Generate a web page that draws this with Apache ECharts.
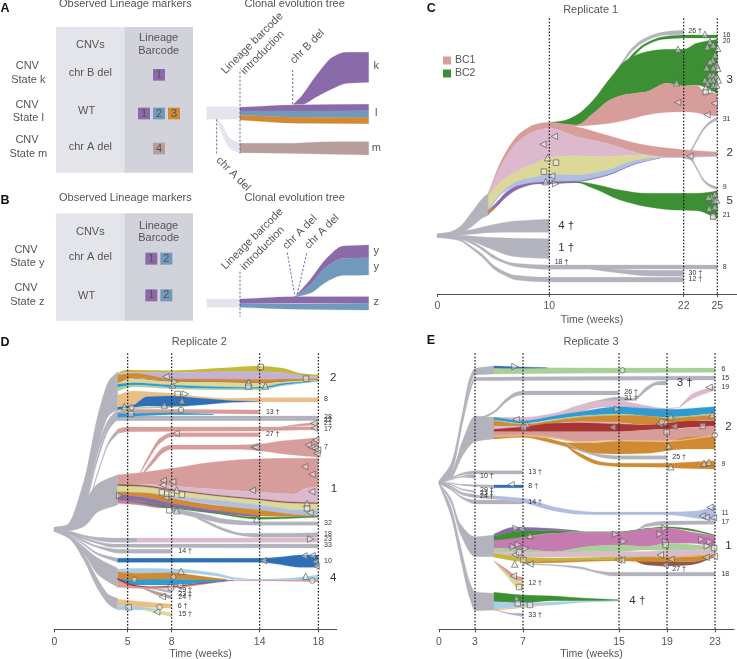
<!DOCTYPE html>
<html><head><meta charset="utf-8">
<style>html,body{margin:0;padding:0;background:#fff}#c{width:737px;height:659px}</style>
<script src="https://cdn.jsdelivr.net/npm/echarts@6/dist/echarts.min.js"></script>
</head><body><div id="c"></div>
<script>
// ---------- tick labels ----------
const ticksC=[0,10,22,25], ticksD=[0,5,8,14,18], ticksE=[0,3,7,15,19,23];
const sampledC=[10,22,25], sampledD=[5,8,14,18], sampledE=[3,7,15,19,23];

// ---------- colours ----------
const salmon='#d79d9b',pinkL='#dcb9cd',yellow='#dcd898',blueL='#b0bee0',purple='#8b6aa9',green='#3d8f34',grey='#b3b3bd',orange='#cf8a33',blue='#2f9bd1',blueD='#2e6fb7',skyL='#a8cfe8',olive='#c2b83a',lilac='#c4b2d6',tan='#e9bf85',greenL='#a9d09a',brown='#8b5a4a',red='#a83434',magenta='#c57ab0',ghost='#e4e5ea',steel='#7199bc',taupe='#b89e9a';

// ---------- Replicate 1 : [week, upper edge, lower edge] ----------
const cGreyMain=[[0,701,712],[1,697,710],[2,680,701],[3,640,682],[4,596,655],[4.6,578,645]];
const cFour=[[0,702,711],[2,695,706],[3,689,703],[4.5,677,698],[7,663,697],[10,657,697]];
const cOne=[[0,702,712],[2,706,716],[3,708,722],[4.5,712,743],[7,715,770],[10,716,776]];
const cEight=[[0,703,711],[2,712,717],[3,722,730],[4,742,750],[5,765,775],[6,782,790],[7,790,800],[10,795,808],[14,795,807],[25,795,807]];
const cThirty=[[13.5,804,807],[16,808,818],[19,811,828],[22,811,829]];
const cTwelve=[[0,703,712],[2,716,722],[3,738,745],[4,762,772],[5,795,806],[6,815,826],[7,826,840],[10,832,846],[22,832,846]];
const cSalmon2=[[4.55,578,582],[5.89,470,485],[7.38,400,420],[8.87,372,392],[10,367,385],[12.44,380,410],[15.12,405,430],[17.8,430,458],[19.88,442,470],[22,449,472],[25,456,468]];
const cPink=[[4.55,582,588],[5.89,485,540],[7.38,420,510],[8.87,392,488],[10,385,472],[12.44,410,467],[15.12,430,470],[17.8,458,465],[19.88,470,470.5]];
const cYellow=[[4.55,588,625],[5.89,540,572],[7.38,510,540],[8.87,488,530],[10,472,522],[12.44,467,525],[15.12,470,510],[17.8,465,480],[19.88,470,472]];
const cBlue=[[4.55,625,632],[5.89,572,578],[7.38,540,555],[8.87,530,547],[10,522,545],[12.44,525,543],[15.12,510,525],[17.8,480,490],[19.88,472,474],[22,470,472],[25,467,469]];
const cPurple=[[4.55,632,643],[5.3,607,620],[6.19,575,590],[7.38,555,565],[8.87,547,552],[10,545,552],[12.44,543,546],[15.12,525,527],[17.8,490,491],[19.88,474,474.5]];
const cOrange=[[4.55,630,640],[5,625,630],[5.3,610,611]];
const cSalmon3=[[11.25,372,372.5],[12.44,375,378],[13.93,340,375],[15.42,300,370],[16.9,283,360],[18.69,275,345],[20.48,250,337],[22,258,335],[23.15,255,338],[24.05,280,345],[25,280,348]];
const cGreen3=[[10,367,367.5],[11.25,362,372],[12.44,345,375],[13.93,300,340],[15.42,235,300],[16.9,180,283],[18.69,155,275],[20.48,148,250],[22,148,258],[23.15,130,255],[25,118,280]];
const cGrey26=[[14.67,287,291],[16.31,195,205],[17.5,140,150],[18.69,112,122],[20.18,96,106],[22,90,103]];
const cGreen16=[[15.12,280,285],[16.31,215,225],[17.5,160,170],[18.69,128,135],[20.18,110,118],[22,105,114],[25,105,114]];
const cGreen5=[[10,548,549],[12.44,545,548],[13.93,552,565],[16.31,570,600],[18.69,580,620],[21.07,580,630],[23.15,580,632],[25,573,655]];
const cGrey31=[[22,469,473],[22.56,452,460],[23.15,418,426],[23.75,384,392],[24.35,364,372],[25,352,360]];
const cGrey9=[[22,470,474],[22.6,472,480],[23.15,500,508],[23.75,536,544],[24.35,553,561],[25,561,569]];
const bandsC=[[cGreyMain,grey],[cFour,grey],[cOne,grey],[cEight,grey],[cThirty,grey],[cTwelve,grey],[cGrey26,grey],[cGrey31,grey],[cGrey9,grey],[cGreen16,green],[cGreen3,green],[cSalmon3,salmon],[cGreen5,green],[cSalmon2,salmon],[cPink,pinkL],[cYellow,yellow],[cBlue,blueL],[cPurple,purple],[cOrange,orange]];

// ---------- Replicate 2 ----------
const dFan2=[[0,592,600],[0.84,585,597],[2,455,515],[3,250,310],[3.75,150,205],[4.32,125,185]];
const dFan8=[[0,592,600],[0.84,588,598],[2,480,530],[3,290,345],[3.75,205,255],[4.32,185,240]];
const dFan13=[[0,593,600],[0.84,590,598],[2,520,535],[3,345,365],[3.75,265,285],[4.32,240,262]];
const dGrey28=[[0,594,600],[0.84,591,598],[2,530,540],[3,370,385],[3.75,285,297],[4.32,260,272],[5,258,272],[18,258,272]];
const dFan17=[[0,595,601],[0.84,593,598],[2,550,556],[3,420,428],[3.75,330,340],[4.32,297,312]];
const dFan1=[[0,593,603],[1,588,602],[2,520,590],[3,460,545],[4.32,434,525]];
const dGrey23=[[0,597,604],[1,603,609],[2,615,622],[3,622,632],[4,624,637],[5.66,624,637]];
const dPink23=[[5.66,624,637],[18,624,637]];
const dGrey33=[[0,598,604],[1,605,611],[2,622,628],[3,635,642],[4,642,652],[18,642,654]];
const dGrey14=[[0,598,604],[1,607,612],[2,630,636],[3,648,654],[4.5,658,670],[8,658,670]];
const dFan10=[[0,600,604],[1,612,615],[2,640,645],[3,670,676],[4.32,685,697]];
const dBlue10=[[4.32,685,697],[14,685,697],[15.61,680,705],[16.75,675,712],[18,675,712]];
const dFan4=[[0,600,604],[1,615,625],[2,650,670],[3,685,735],[4.32,715,772]];
const dFan6=[[0,600,604],[1,615,625],[2,670,690],[3,750,780],[3.75,795,825],[4.32,805,840]];
const dOlive=[[4.32,130,133],[4.93,120,127],[8,122,128],[11.07,115,125],[14,108,125],[15.61,115,128],[16.75,130,138],[18,135,140]];
const dLilac=[[4.32,133,135],[4.93,127,130],[8,128,148],[11.07,125,148],[14,125,147],[15.61,128,148],[17.2,138,148],[18,140,148]];
const dOrange2=[[4.32,135,160],[5.39,130,145],[8,147,153],[11.07,147,155],[14,148,158],[15.61,147,153],[18,147,150]];
const dBrown2=[[5.39,145,146],[8,153,155],[11.07,155,157],[14,158,160],[15.61,153,155],[18,150,151]];
const dYellow2=[[4.32,160,162],[5.39,146,158],[8,155,165],[11.07,157,170],[14,160,172],[15.61,155,160],[18,151,153]];
const dBlue2=[[4.32,162,172],[5.39,158,165],[8,165,172],[11.07,170,176],[14,172,176],[15.61,160,165],[18,153,153.5]];
const dGreen2=[[4.32,172,183],[5.39,165,170],[8,172,176],[11.07,176,179],[14,176,179],[15.61,165,167],[18,153.5,154]];
const dTan8=[[4.32,195,232],[5.39,183,225],[6.3,185,200],[8,190,198],[9.93,200,205],[12.2,205,212],[14,203,215],[18,203,216]];
const dBlue8=[[4.32,232,240],[5.39,225,232],[6.3,200,228],[8,198,230],[9.93,205,225],[12.2,212,217],[14,215,215.5]];
const dGreen8=[[4.32,240,243],[5.39,232,236],[7.66,230,233],[9,228,229]];
const dSalmon13=[[4.32,246,250],[5.39,238,248],[14,240,252]];
const dBlue13=[[4.32,250,262],[4.93,250,260],[8,248,254],[10.84,252,254]];
const dBranch17=[[15.5,290,291],[16.75,282,288],[18,275,285]];
const dSalmon17=[[4.32,297,310],[4.93,291,305],[14,291,303],[16.75,290,300],[18,290,300]];
const dSalmon27=[[5.84,428,432],[6.52,370,382],[7.2,325,340],[8,308,320],[14,308,320]];
const dSalmon7=[[6.07,426,432],[6.75,385,400],[7.43,352,368],[8,345,358],[12.2,345,358],[14,342,362],[15.61,332,372],[18,323,382]];
const dSalmon1=[[4.32,434,462],[5.84,428,462],[8,415,468],[11.07,395,478],[14,386,487],[16.3,385,492],[17.2,385,475],[18,385,470]];
const dPink1=[[4.32,462,463],[5.84,462,465],[8,468,478],[11.07,478,495],[14,487,507],[16.3,492,516],[17.2,475,520],[18,470,518]];
const dBrown1=[[4.32,463,467],[5.84,465,469],[8,478,481],[11.07,495,498],[14,507,510],[16.3,516,520],[18,518,521]];
const dYellow1=[[4.32,467,485],[5.84,469,490],[8,481,498],[11.07,498,510],[14,510,525],[16.75,522,540],[18,521,540]];
const dBlue1=[[5.84,490,491],[8,498,505],[11.07,510,525],[14,525,540],[16.75,540,555],[18,540,557]];
const dOrange1=[[4.32,485,492],[6.52,490,505],[8,505,520],[10.84,525,540],[14,540,558],[16.75,555,560],[18,557,560]];
const dPurple1=[[4.32,492,505],[6.52,505,522],[8,520,532],[10.84,540,548],[14,558,562]];
const dMagenta1=[[4.32,505,520],[5.84,513,525],[7.2,528,534],[8,532,534]];
const dGreen1=[[4.32,505,507],[5.39,513,515],[8,532,535],[10.84,547,550],[14,562,568],[18,559,562]];
const dGrey32=[[8,535,545],[9.93,550,565],[11.75,568,582],[14,575,586],[18,575,586]];
const dGrey18=[[9.02,545,548],[10.39,572,580],[11.75,598,606],[12.89,610,618],[14,610,622],[18,608,622]];
const dSky4=[[4.32,717,725],[5.84,715,730],[8.64,718,728],[11.07,730,738],[12.2,742,748],[14,748,750],[15.84,745,749],[18,735,750]];
const dOrange4=[[4.32,725,745],[5.84,730,752],[8,728,748],[9.93,738,750],[11.75,748,750]];
const dBlue4=[[4.32,745,748],[5.39,750,765],[8,748,765],[9.93,750,760],[11.75,750,752]];
const dRed4=[[4.32,745,750],[5.39,764,768],[6.52,770,772],[8,768,771],[9.93,760,762],[12.2,750,751]];
const dSalmon4=[[4.32,750,772],[5.39,768,775],[6.52,772,776],[8,771,775],[9.93,762,765],[12.2,751,752],[14,750,752],[18,750,755]];
const dGrey29=[[5.84,768,770],[7,775,780],[8,782,790]];
const dTaupe24=[[5.84,770,772],[7,785,795],[8,797,807]];
const dTan6=[[4.32,808,825],[6.07,815,832],[8,822,835]];
const dSky6=[[4.32,825,840],[6.07,832,840],[7.2,838,840]];
const dYellow15=[[6.07,838,840],[7,842,850],[8,848,860]];
const bandsD=[[dFan2,grey],[dFan8,grey],[dFan13,grey],[dGrey28,grey],[dFan17,grey],[dFan1,grey],[dGrey23,grey],[dPink23,pinkL],[dGrey33,grey],[dGrey14,grey],[dFan10,grey],[dBlue10,blueD],[dFan4,grey],[dFan6,grey],
[dOlive,olive],[dLilac,lilac],[dOrange2,orange],[dBrown2,brown],[dYellow2,yellow],[dBlue2,blue],[dGreen2,greenL],[dTan8,tan],[dBlue8,blueD],[dGreen8,greenL],[dSalmon13,salmon],[dBlue13,blue],[dBranch17,salmon],[dSalmon17,salmon],[dSalmon27,salmon],[dSalmon7,salmon],
[dGrey32,grey],[dGrey18,grey],[dSalmon1,salmon],[dPink1,pinkL],[dYellow1,yellow],[dBlue1,blueL],[dOrange1,orange],[dPurple1,purple],[dMagenta1,magenta],[dGreen1,green],[dBrown1,brown],
[dGrey29,grey],[dTaupe24,taupe],[dSky4,skyL],[dOrange4,orange],[dBlue4,blue],[dSalmon4,salmon],[dRed4,red],[dTan6,tan],[dSky6,skyL],[dYellow15,yellow]];

// ---------- Replicate 3 ----------
const eFan6=[[0,452,458],[1,400,425],[2,240,265],[2.5,150,180],[3,115,135],[4.58,108,132]];
const eGrey15=[[0,453,458],[1,410,430],[2,250,275],[2.6,170,185],[3,142,152],[23,138,150]];
const eGrey26=[[0,453,458],[1,430,438],[2,330,345],[3,268,276],[3.5,262,268],[4.58,243,250],[5.64,205,215],[6.47,186,198],[7,183,195],[15,183,195]];
const eFan2=[[0,454,459],[1,432,445],[2,330,375],[3,258,335],[4.58,262,327]];
const eGrey13=[[0,454,458],[1,442,447],[2,428,434],[3,422,432],[7,422,432]];
const eGrey10=[[0,454,459],[1,447,450],[2,437,442],[3,433,445]];
const eFan8=[[0,455,459],[1,458,461],[2,463,467],[4.58,465,473]];
const eBlue8=[[4.58,465,473],[7,465,473]];
const eGrey29=[[0,456,460],[1,463,466],[2,477,481],[3,482,488]];
const eGrey24=[[0,457,461],[1,468,471],[2,488,493],[3,493,502]];
const eGrey14=[[0,457,461],[1,475,480],[2,502,508],[3,510,522],[7,510,522]];
const eFan11=[[0,457,461],[1,470,475],[2,490,496],[3,495,503],[4.58,497,507]];
const eBlue11=[[4.58,497,507],[7,505,518],[9.53,530,542],[11.75,543,553],[13.14,546,554],[19,546,554],[21.47,543,565],[23,528,572]];
const eGrey17=[[16.47,600,601],[17.31,581,590],[19,573,585],[23,572,583]];
const eFan1=[[0,458,462],[1,505,520],[1.75,580,610],[3,620,680],[4.58,615,680]];
const eFan4=[[0,458,463],[1,530,560],[1.75,640,680],[2.6,760,810],[3,785,842],[4.58,790,840]];
const eGreen6=[[4.58,113,132],[23,114,127]];
const eBlue6=[[4.58,108,114],[6.19,110,115],[9,113,114]];
const ePink19a=[[4.58,262,262.5],[7,262,272],[9.53,250,258],[11.75,225,245],[13.42,212,232],[15,212,230],[17.03,225,235],[19,235,238],[20.08,230,232]];
const ePink19b=[[20.08,228,232],[21.19,190,205],[23,168,180]];
const eGrey31=[[10.92,235,238],[13.14,212,218],[15,200,212],[16.19,205,212],[17.31,170,182],[18.14,155,165],[19,152,165]];
const eBlue2=[[4.58,262,270],[7,272,280],[9.53,258,268],[11.75,245,258],[15,230,252],[17.31,235,258],[19,238,262],[23,230,250]];
const eGreenL2=[[4.58,270,272],[7,280,283],[11.75,258,262],[15,252,256],[19,262,264],[23,250,254]];
const eOrangeA=[[4.58,272,288],[7,283,288],[9.53,272,280],[11.75,262,275],[15,256,278],[17.31,258,285],[19,264,278],[23,254,270]];
const ePink2=[[4.58,288,298],[7,288,290],[11.75,275,278],[15,278,282],[17.31,285,285.5],[19,278,279],[23,270,272]];
const eRed2=[[4.58,298,305],[7,290,305],[9.53,280,305],[11.75,278,305],[15,282,305],[17.31,285,300],[19,279,298],[20.92,273,292],[23,272,288]];
const eSalmon2=[[4.58,305,318],[7,305,318],[9.53,305,325],[11.75,305,335],[15,305,330],[17.31,300,335],[19,298,332],[23,288,315]];
const eTan2=[[4.58,318,320],[7,315,318],[9.53,322,325],[11.75,335,338],[15,330,333],[19,332,335],[23,315,318]];
const eOrangeB=[[4.58,320,327],[7,318,322],[8.97,325,335],[10.64,338,350],[12.86,338,370],[15,333,372],[17.31,335,370],[19,335,362],[20.64,322,357],[23,318,357]];
const eGrey25=[[10.36,335,337],[12.31,365,370],[13.97,375,385],[15,377,388],[19,377,388]];
const eOrange9=[[10.36,340,342],[11.75,370,380],[13.42,395,405],[15,400,410],[19,400,412],[20.08,398,415],[23,392,417]];
const ePurple1=[[4.58,612,618],[6.19,592,605],[7,592,603],[10.36,598,602],[11.75,603,604]];
const eGreen1=[[4.58,618,632],[6.19,605,628],[7,603,622],[9.53,602,610],[12.31,605,607],[15,605,607],[17.31,595,597],[19,590,594],[20.64,595,600],[23,615,617]];
const eMagenta1=[[4.58,632,655],[7,622,658],[9.53,610,665],[12.31,607,650],[15,607,645],[17.31,597,650],[19,594,640],[20.92,605,640],[23,617,650]];
const eGreenL1=[[4.58,655,665],[7,658,668],[9.53,665,668],[12.31,650,665],[15,645,665],[17.31,650,660],[19,640,662],[23,650,658]];
const ePink1=[[4.58,665,670],[7,668,682],[12.31,665,680],[15,665,680],[19,662,680],[23,658,672]];
const eOlive1=[[4.58,670,682],[7,682,695],[9.53,684,692],[15,680,688],[19,680,682],[23,672,675]];
const eOrange1=[[7,695,700],[9.53,692,698],[15,688,692],[17.03,682,695],[19,682,695],[20.92,680,695],[23,675,680]];
const eBrown1=[[16.47,693,695],[17.31,692,705],[19,695,708],[20.92,695,705],[23,680,681]];
const eGrey18=[[7,700,703],[8.97,703,706],[11.75,710,716],[13.14,722,728],[14.53,727,738],[23,727,738]];
const eGrey27=[[17.03,697,698],[19,708,712]];
const eYellow12=[[4.58,693,695],[5.64,728,738],[6.47,750,772],[7,752,780]];
const eSalmon12=[[4.58,692,693],[5.64,718,728],[6.47,738,750],[7,742,752]];
const eGreen4=[[4.58,787,815],[7,795,818],[9.53,798,812],[12.31,805,812],[15,809,812]];
const eSky4=[[4.58,815,838],[7,818,830],[9.53,816,825],[12.31,814,817],[15,812,813]];
const eTan4=[[4.58,838,841],[7,830,833],[8.97,821,823]];
const eGrey33=[[4.58,838,840],[6.19,850,855],[7,850,860]];
const bandsE=[[eFan6,grey],[eGrey15,grey],[eGrey26,grey],[eFan2,grey],[eGrey13,grey],[eGrey10,grey],[eFan8,grey],[eBlue8,blueD],[eGrey29,grey],[eGrey24,grey],[eGrey14,grey],[eFan11,grey],[eBlue11,blueL],[eGrey17,grey],[eFan1,grey],[eFan4,grey],
[eGreen6,greenL],[eBlue6,blueD],[eGrey31,grey],[ePink19a,pinkL],[ePink19b,pinkL],[eBlue2,blue],[eGreenL2,greenL],[eOrangeA,orange],[ePink2,pinkL],[eRed2,red],[eSalmon2,salmon],[eOrangeB,orange],[eTan2,tan],[eGrey25,grey],[eOrange9,orange],
[ePurple1,purple],[eGreen1,green],[eMagenta1,magenta],[eGreenL1,greenL],[ePink1,pinkL],[eOlive1,olive],[eGrey18,grey],[eGrey27,grey],[eBrown1,brown],[eOrange1,orange],[eYellow12,yellow],[eSalmon12,salmon],[eGreen4,green],[eSky4,skyL],[eTan4,tan],[eGrey33,grey]];

// ---------- sampling markers [week, track] ----------
const cLeft=[[10.45,409],[9.43,433],[10.21,528],[21.46,307],[24.73,310],[24.08,344],[22.56,468]];
const cUp=[[9.85,473],[9.67,545],[21.49,148],[21.37,248],[23.9,103],[24.35,125],[24.11,140],[24.64,135],[25.03,145],[24.79,165],[24.58,180],[24.35,185],[24.94,195],[24.05,203],[24.64,203],[25.03,205],[24.35,225],[24.64,225],[24.94,230],[23.9,240],[24.35,240],[24.64,240],[25.09,240],[24.11,250],[24.64,255],[23.99,262],[24.29,270],[24.94,255],[24.49,590],[24.79,582],[24.2,592],[24.73,602],[24.29,625],[24.79,620],[24.94,600],[24.64,645]];
const cRight=[[10.57,551]];
const cSquare=[[9.52,515],[10.6,488],[23.96,276],[24.64,650]];
const dLeft=[[7.61,140],[8.3,310],[13.61,351],[13.75,352],[17.07,410],[17.57,433],[17.55,485],[13.5,481],[7.43,452],[7.39,465],[8.07,455],[7.59,503],[17.43,548],[17.7,280],[17.73,294],[17.82,330],[17.32,345],[17.55,352],[17.77,355],[17.95,360],[17.9,370],[17.02,678],[17.57,677],[17.77,695],[17.84,708],[7.36,800],[6.98,846],[14.25,692]];
const dUp=[[13.25,157],[8.05,165],[14.39,168],[8.7,212],[7.5,225],[4.77,230],[8.34,480],[8.34,542],[13.8,567],[17.23,520],[8.64,724],[17.14,739]];
const dRight=[[8.23,155],[8.93,192],[4.45,497],[17.48,627]];
const dSquare=[[14.07,111],[17.16,146],[13.23,170],[8.41,192],[5.23,252],[7.34,487],[7.7,491],[8,491],[8.7,494],[7.84,541],[17.23,535],[7.95,772],[5.07,832]];
const dCircle=[[5.27,232],[8.64,240],[5.45,749],[8.11,741],[8.59,767],[17.59,752],[7.18,831]];
const eLeft=[[6.42,269],[14.44,292],[19.58,289],[18.36,282],[22.5,172],[22.58,532],[21.94,558],[22.25,562],[22.86,563],[6.83,597],[6.33,674],[18.44,675],[19.33,688],[18.83,705],[22.25,682],[22.92,679],[14.94,690],[15.22,690],[7.58,702],[6.19,738],[6,464]];
const eUp=[[7.31,283],[19.31,260],[22.75,255],[19.14,347],[19.31,410],[22.08,400],[22.5,397],[7.58,616],[6.31,702],[6.47,805]];
const eRight=[[6.33,110],[14.86,238],[14.72,613],[15.42,634],[6.42,595],[6.19,650],[6.61,644],[7.22,655],[18.83,595],[18.42,612],[18.89,635],[21.89,628],[22.58,635],[22.36,648]];
const eSquare=[[7.06,293],[18.97,306],[21.97,288],[6.67,667],[7.03,690],[6.67,771],[6.56,820],[7.58,825],[18.89,645],[22.92,654]];
const eCircle=[[15.28,121],[22.97,316],[18.83,278],[18.56,275]];

// ---------- clone labels [week, track, text, big?] ----------
const cLabels=[[22.41,93,'26 †'],[25.48,106,'16'],[25.48,124,'20'],[25.83,240,'3',1],[25.48,356,'31'],[25.83,458,'2',1],[25.48,562,'9'],[25.83,603,'5',1],[25.48,646,'21'],[25.48,800,'8'],[10.8,676,'4 †',1],[10.8,744,'1 †',1],[10.48,785,'18 †'],[22.44,820,'30 †'],[22.44,837,'12 †']];
const dLabels=[[18.8,143,'2',1],[18.39,208,'8'],[14.43,245,'13 †'],[18.39,260,'28'],[18.39,270,'22'],[18.39,280,'21'],[18.39,296,'17'],[14.43,312,'27 †'],[18.39,350,'7'],[18.84,477,'1',1],[18.39,579,'32'],[18.39,612,'18'],[18.39,627,'23'],[18.39,646,'33'],[8.45,663,'14 †'],[18.39,692,'10'],[18.8,742,'4',1],[8.45,780,'29 †'],[8.45,791,'23 †'],[8.45,802,'24 †'],[8.41,827,'6 †'],[8.45,853,'15 †']];
const eLabels=[[23.53,118,'6'],[23.53,143,'15'],[23.53,172,'19'],[15.44,187,'26 †'],[15.44,203,'31 †'],[19.81,157,'3 †',1],[23.86,290,'2',1],[19.44,381,'25 †'],[23.53,402,'9'],[7.44,425,'13 †'],[3.42,439,'10 †'],[7.44,469,'8 †'],[3.42,481,'29 †'],[3.42,490,'23 †'],[3.42,498,'24 †'],[7.44,516,'14 †'],[23.53,548,'11'],[23.53,577,'17'],[23.86,647,'1',1],[19.44,717,'27 †'],[23.53,732,'18'],[7.44,759,'12 †'],[15.86,812,'4 †',1],[7.44,855,'33 †']];

// ---------- schematic panels A and B ----------
const aGrey=[[620,320,358],[720,320,358]];
const aGreyM=[[650,358,358.5],[665,372,400],[690,415,445],[720,430,460]];
const aPurple=[[720,322,333],[880,315,333],[1106,313,332]];
const aSteel=[[720,333,346],[900,333,352],[1106,332,353]];
const aOrange=[[720,346,360],[900,352,370],[1106,353,371]];
const aK=[[880,313,313.5],[905,288,313],[950,225,290],[1000,170,265],[1040,157,250],[1106,157,247]];
const aM=[[720,430,458],[850,430,460],[1000,425,463],[1106,425,465]];
const bGrey=[[620,897,922],[720,897,922]];
const bPurple=[[720,897,910],[880,890,910],[1106,890,910]];
const bSteel=[[720,910,922],[900,912,928],[1106,910,930]];
const bY1=[[885,890,890.5],[930,840,855],[980,775,800],[1030,738,775],[1106,735,773]];
const bY2=[[888,890,890.5],[930,855,880],[980,800,845],[1030,775,826],[1106,773,825]];
const bandsAB=[[aGrey,ghost],[aGreyM,ghost],[aK,purple],[aPurple,purple],[aSteel,steel],[aOrange,orange],[aM,taupe],[bGrey,ghost],[bY1,purple],[bY2,steel],[bPurple,purple],[bSteel,steel]];
const abDash=[[720,215,720,460],[878,210,878,313],[650,358,650,462],[720,815,720,950],[862,758,885,890],[920,760,890,890]];
const abCells=[[168,81,373,518,'#e4e5ea'],[373,81,579,518,'#d1d2da'],[168,640,373,962,'#e4e5ea'],[373,640,579,962,'#d1d2da']];
const abChips=[[459,207,495,242,purple],[414,323,450,358,purple],[459,323,495,358,steel],[504,323,540,358,orange],[459,428,495,463,taupe],[436,758,472,794,purple],[481,758,517,794,steel],[436,868,472,904,purple],[481,868,517,904,steel]];
const abText=[[376,13,'Observed Lineage markers'],[884,13,'Clonal evolution tree'],[376,594,'Observed Lineage markers'],[884,594,'Clonal evolution tree'],
[271,135,'CNVs'],[476,115,'Lineage'],[476,153,'Barcode'],[271,219,'chr B del'],[260,333,'WT'],[271,441,'chr A del'],
[82,199,'CNV'],[85,239,'State k'],[81,315,'CNV'],[85,353,'State l'],[81,421,'CNV'],[85,461,'State m'],
[271,697,'CNVs'],[476,677,'Lineage'],[476,715,'Barcode'],[271,772,'chr A del'],[260,887,'WT'],[78,750,'CNV'],[82,790,'State y'],[78,865,'CNV'],[82,905,'State z'],
[1129,198,'k'],[1129,340,'l'],[1129,443,'m'],[1129,752,'y'],[1129,800,'y'],[1129,905,'z'],
[477,226,'1'],[432,341,'1'],[477,341,'2'],[522,341,'3'],[477,446,'4'],[454,776,'1'],[499,776,'2'],[454,886,'1'],[499,886,'2']];
const abSlanted=[[757,130,'Lineage barcode',45],[788,158,'introduction',45],[922,140,'chr B del',45],[700,522,'chr A del',-45],[757,717,'Lineage barcode',45],[788,745,'introduction',45],[900,697,'chr A del',45],[966,695,'chr A del',45]];
const panelLetters=[[15,27,'A'],[15,602,'B'],[1294,27,'C'],[15,1027,'D'],[1293,1023,'E']];
const panelTitles=[[1772,30,'Replicate 1'],[598,1026,'Replicate 2'],[1773,1026,'Replicate 3']];

// ---------- drawing helpers ----------
const FONT='"Liberation Sans",Arial,sans-serif', TXT='#555';
function tangents(p){const n=p.length,d=[],m=[];for(let i=0;i<n-1;i++)d.push((p[i+1][1]-p[i][1])/((p[i+1][0]-p[i][0])||1));
  m[0]=d[0];m[n-1]=d[n-2];for(let i=1;i<n-1;i++)m[i]=d[i-1]*d[i]<=0?0:2*d[i-1]*d[i]/(d[i-1]+d[i]);return m;}
function forward(p){const m=tangents(p);let s='';for(let i=0;i<p.length-1;i++){const h=(p[i+1][0]-p[i][0])/3;
  s+=`C${p[i][0]+h} ${p[i][1]+m[i]*h} ${p[i+1][0]-h} ${p[i+1][1]-m[i+1]*h} ${p[i+1][0]} ${p[i+1][1]} `;}return s;}
function backward(p){const m=tangents(p);let s='';for(let i=p.length-1;i>0;i--){const h=(p[i][0]-p[i-1][0])/3;
  s+=`C${p[i][0]-h} ${p[i][1]-m[i]*h} ${p[i-1][0]+h} ${p[i-1][1]+m[i-1]*h} ${p[i-1][0]} ${p[i-1][1]} `;}return s;}
function band(rows,color,g,name){return {type:'custom',name,coordinateSystem:'cartesian2d',xAxisIndex:g,yAxisIndex:g,data:rows,encode:{x:0,y:[1,2]},silent:true,animation:false,clip:false,itemStyle:{color},
  renderItem(p,api){if(p.dataIndex!==rows.length-1)return null;
    const a=rows.map(r=>api.coord([r[0],r[1]])),b=rows.map(r=>api.coord([r[0],r[2]]));
    return {type:'path',shape:{pathData:`M${a[0][0]} ${a[0][1]} `+forward(a)+`L${b[b.length-1][0]} ${b[b.length-1][1]} `+backward(b)+'Z'},style:{fill:color,stroke:color,lineWidth:.25}};}};}
function texts(rows,g,styleFn){return {type:'custom',coordinateSystem:'cartesian2d',xAxisIndex:g,yAxisIndex:g,data:rows.map(r=>[r[0],r[1]]),encode:{x:0,y:1},silent:true,animation:false,clip:false,z:10,
  renderItem(p,api){const r=rows[p.dataIndex],c=api.coord([r[0],r[1]]),s=styleFn(r);
    return {type:'text',x:c[0],y:c[1],rotation:(s.rot||0)*Math.PI/180,style:{text:r[2],x:0,y:0,fill:s.fill||TXT,font:s.font,textAlign:s.align||'left',textVerticalAlign:'middle'}};}};}
function verticals(weeks,top,bottom,g){return {type:'custom',coordinateSystem:'cartesian2d',xAxisIndex:g,yAxisIndex:g,data:weeks.map(w=>[w,top,bottom]),encode:{x:0,y:[1,2]},silent:true,animation:false,z:8,
  renderItem(p,api){const a=api.coord([api.value(0),api.value(1)]),b=api.coord([api.value(0),api.value(2)]);
    return {type:'line',shape:{x1:a[0],y1:a[1],x2:b[0],y2:b[1]},style:{stroke:'#111',lineWidth:1.2,lineDash:[1.5,1.8]}};}};}
function marks(rows,symbol,rotate,g){return {type:'scatter',xAxisIndex:g,yAxisIndex:g,data:rows,symbol,symbolRotate:rotate,symbolSize:symbol==='triangle'?6.5:5.5,silent:true,animation:false,z:9,clip:false,
  itemStyle:{color:'rgba(255,255,255,.5)',borderColor:'#5f5f5f',borderWidth:.9}};}
function panelSeries(bands,g,lab,L,U,R,S,C){const out=bands.map(b=>band(b[0],b[1],g,b[2]));
  out.push(marks(L,'triangle',90,g),marks(U,'triangle',0,g),marks(R,'triangle',-90,g),marks(S,'rect',0,g));
  if(C)out.push(marks(C,'circle',0,g));
  out.push(texts(lab,g,r=>({font:(r[3]?'11.5px ':'7px ')+FONT,fill:'#333'})));return out;}

const namedC=bandsC.map(b=>b[0]===cGreen3?[b[0],b[1],'BC2']:b[0]===cSalmon2?[b[0],b[1],'BC1']:b);

function timeAxis(g,maxW,ticks,pad,gap){return {gridIndex:g,type:'value',min:0,max:maxW,name:'Time (weeks)',nameLocation:'middle',nameGap:gap,
  nameTextStyle:{color:TXT,fontSize:10.5,fontFamily:'Liberation Sans',padding:[0,0,0,pad]},
  axisLine:{show:true,onZero:false,lineStyle:{color:'#4d4d4d',width:1.2}},
  axisTick:{show:true,customValues:ticks,length:3,lineStyle:{color:'#4d4d4d',width:1}},
  axisLabel:{show:true,customValues:ticks,color:TXT,fontSize:10.5,fontFamily:'Liberation Sans',margin:7},splitLine:{show:false}};}
const hideY=(g,max)=>({gridIndex:g,type:'value',min:0,max,inverse:true,show:false});

const series=[
  {type:'custom',coordinateSystem:'cartesian2d',xAxisIndex:0,yAxisIndex:0,data:abCells.concat(abChips).map(r=>r.slice(0,4)),encode:{x:[0,2],y:[1,3]},silent:true,animation:false,z:1,
   renderItem(p,api){const all=abCells.concat(abChips),r=all[p.dataIndex],a=api.coord([r[0],r[1]]),b=api.coord([r[2],r[3]]);
     return {type:'rect',shape:{x:a[0],y:a[1],width:b[0]-a[0],height:b[1]-a[1]},style:{fill:r[4]}};}},
  ...bandsAB.map(b=>band(b[0],b[1],0)),
  {type:'custom',coordinateSystem:'cartesian2d',xAxisIndex:0,yAxisIndex:0,data:abDash,encode:{x:[0,2],y:[1,3]},silent:true,animation:false,z:6,
   renderItem(p,api){const a=api.coord([api.value(0),api.value(1)]),b=api.coord([api.value(2),api.value(3)]);
     return {type:'line',shape:{x1:a[0],y1:a[1],x2:b[0],y2:b[1]},style:{stroke:'#4b3f9e',lineWidth:.8,lineDash:[2.2,1.8]}};}},
  texts(abText,0,r=>({font:'11px '+FONT,align:'center'})),
  texts(abSlanted,0,r=>({font:'11px '+FONT,align:'center',rot:r[3]})),
  texts(panelLetters,0,r=>({font:'bold 12.5px '+FONT,fill:'#111',align:'center'})),
  texts(panelTitles,0,r=>({font:'11px '+FONT,align:'center'})),
  ...panelSeries(namedC,1,cLabels,cLeft,cUp,cRight,cSquare),
  verticals(sampledC,55,882,1),
  ...panelSeries(bandsD,2,dLabels,dLeft,dUp,dRight,dSquare,dCircle),
  verticals(sampledD,70,898,2),
  ...panelSeries(bandsE,3,eLabels,eLeft,eUp,eRight,eSquare,eCircle),
  verticals(sampledE,70,898,3)
];

const chart=echarts.init(document.getElementById('c'));
chart.setOption({animation:false,backgroundColor:'#fff',
  legend:{data:['BC1','BC2'],orient:'vertical',left:443,top:55,itemWidth:8,itemHeight:8,itemGap:2,padding:0,icon:'rect',selectedMode:false,textStyle:{color:TXT,fontSize:10.5,fontFamily:'Liberation Sans',padding:[0,0,0,-1]}},
  grid:[{left:0,top:0,width:737,height:659,outerBoundsMode:'none'},
        {left:437.33,top:0,width:299.33,height:294,outerBoundsMode:'none'},
        {left:54.33,top:330,width:282.33,height:299.33,outerBoundsMode:'none'},
        {left:439,top:330,width:295,height:299.33,outerBoundsMode:'none'}],
  xAxis:[{gridIndex:0,type:'value',min:0,max:2211,show:false},timeAxis(1,26.73,ticksC,10,21),timeAxis(2,19.25,ticksD,10,19),timeAxis(3,24.58,ticksE,10,19)],
  yAxis:[hideY(0,1977),hideY(1,882),hideY(2,898),hideY(3,898)],
  series});
</script></body></html>
